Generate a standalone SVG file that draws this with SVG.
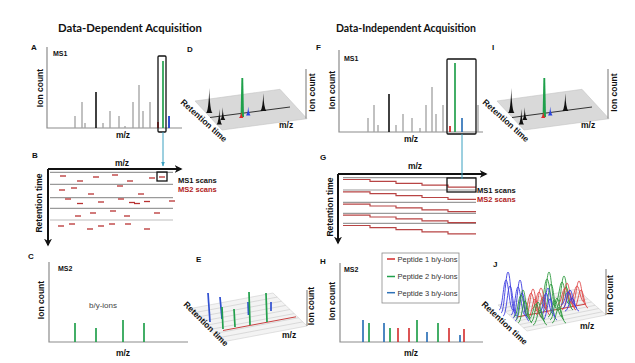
<svg xmlns="http://www.w3.org/2000/svg" width="635" height="363" viewBox="0 0 635 363">
<style>
text{font-family:"Liberation Sans",Arial,sans-serif;font-weight:bold;fill:#111}
.title{font-family:Lato,"Liberation Sans",sans-serif;font-size:11.5px}
.lt{font-size:8px}
.ms{font-size:7px}
.al{font-size:8.5px}
.sc{font-size:7.5px}
.ax{stroke:#8c8c8c;stroke-width:1.2;fill:none}
.gb{stroke:#a0a0a0;stroke-width:1.3}
.kb{stroke:#111;stroke-width:1.6}
.gr{stroke:#22a04c;stroke-width:1.7}
.rd{stroke:#d42a2a;stroke-width:1.8}
.bl{stroke:#2f4fd0;stroke-width:2}
.sb{stroke:#2e72b8;stroke-width:1.7}
.dash{stroke:#b83232;stroke-width:1.3}
.scan{stroke:#9a9a9a;stroke-width:1.2}
.st{fill:none;stroke:#b84444;stroke-width:1.2}
.box{fill:none;stroke:#111;stroke-width:1.3}
.conn{stroke:#3aa0c0;stroke-width:1;fill:none}
.arr{stroke:#111;stroke-width:2;fill:none}
.stripe{stroke:#c8c8c8;stroke-width:0.6}
.leg{font-weight:normal;font-size:7.5px;fill:#333}
.gs{fill:none;stroke-width:0.9}
</style>
<defs>
<marker id="ah" viewBox="0 0 10 10" refX="8" refY="5" markerWidth="4" markerHeight="4" orient="auto"><path d="M0,0 L10,5 L0,10 L3,5 Z" fill="#111"/></marker>
<marker id="ta" viewBox="0 0 10 10" refX="9" refY="5" markerWidth="5" markerHeight="5" orient="auto"><path d="M0,1 L10,5 L0,9 Z" fill="#3aa0c0"/></marker>
<path id="g" d="M-7,0 C-3.5,0 -2.5,-1 0,-1 C2.5,-1 3.5,0 7,0" fill="none" vector-effect="non-scaling-stroke"/>
</defs>

<text class="title" x="58" y="31.5" textLength="144" lengthAdjust="spacingAndGlyphs">Data-Dependent Acquisition</text>
<text class="title" x="336" y="32" textLength="140" lengthAdjust="spacingAndGlyphs">Data-Independent Acquisition</text>

<g id="panel-A">
<text x="31" y="50" class="lt">A</text>
<text x="53" y="56" class="ms">MS1</text>
<text class="al" transform="translate(43,88) rotate(-90)" text-anchor="middle">Ion count</text>
<path class="ax" d="M47,47 V128 H182"/>
<g class="gb">
<line x1="75" y1="116" x2="75" y2="128"/><line x1="82" y1="102" x2="82" y2="128"/><line x1="85" y1="123" x2="85" y2="128"/>
<line x1="103" y1="123" x2="103" y2="128"/><line x1="110" y1="111" x2="110" y2="128"/><line x1="119" y1="116" x2="119" y2="128"/>
<line x1="125" y1="126" x2="125" y2="128"/><line x1="133" y1="102" x2="133" y2="128"/><line x1="139" y1="85" x2="139" y2="128"/>
<line x1="143" y1="111" x2="143" y2="128"/><line x1="150" y1="102" x2="150" y2="128"/>
</g>
<line class="kb" x1="96" y1="92" x2="96" y2="128"/>
<line class="rd" x1="158" y1="122" x2="158" y2="128"/>
<line class="gr" x1="163" y1="61" x2="163" y2="128"/>
<line class="bl" x1="169" y1="116" x2="169" y2="128"/>
<rect class="box" x="158" y="56" width="8" height="76" rx="1"/>
<text x="123" y="138" class="al" text-anchor="middle">m/z</text>
</g>

<g id="panel-D">
<text x="187" y="51.5" class="lt">D</text>
<polygon points="195,101 280,89.3 307,118.7 222,130" fill="#d9d9d9" stroke="#c4c4c4" stroke-width="0.6"/>
<line x1="210" y1="117.5" x2="290" y2="107" stroke="#333" stroke-width="1"/>
<g fill="#111">
<path d="M206,113 Q208.6,111 209.3,88 Q209.9,111 212.5,113 Z"/>
<path d="M216.6,124.5 Q218.8,122 219.3,109 Q219.8,122 222,124.5 Z"/>
<path d="M220.4,120 Q222.3,118 222.7,107.3 Q223.2,118 225.3,120 Z"/>
<path d="M260.5,111 Q262.8,108 263.3,93.3 Q263.9,108 266.3,111 Z"/>
</g>
<polygon points="240.6,117 241.4,78 243.2,78 244,117" fill="#1ea04a"/>
<path d="M239,118 Q240.8,116 241.2,112 Q241.8,116 243.5,118 Z" fill="#e02a2a"/>
<path d="M246,115.5 Q247.8,113 248.2,106.5 Q248.8,113 250.5,115.5 Z" fill="#2a45e0"/>
<line class="ax" x1="306" y1="69" x2="306" y2="118.5"/>
<text class="al" transform="translate(180,103) rotate(42)">Retention time</text>
<text class="al" x="279" y="128">m/z</text>
<text class="al" transform="translate(315,92.5) rotate(-90)" text-anchor="middle">Ion count</text>
</g>

<g id="panel-B">
<text x="32" y="157.5" class="lt">B</text>
<text x="122" y="166" class="al" text-anchor="middle">m/z</text>
<text class="al" transform="translate(42,203) rotate(-90)" text-anchor="middle">Retention time</text>
<g class="scan">
<line x1="50" y1="172.3" x2="173" y2="172.3"/>
<line x1="50" y1="184.3" x2="173" y2="184.3"/>
<line x1="50" y1="197.7" x2="173" y2="197.7"/>
<line x1="50" y1="208.3" x2="173" y2="208.3"/>
<line x1="50" y1="220" x2="173" y2="220" stroke="#bdbdbd"/>
</g>
<path class="arr" d="M48,169 H181" marker-end="url(#ah)"/>
<path class="arr" d="M48,169 V245" marker-end="url(#ah)"/>
<g class="dash">
<line x1="60" y1="176" x2="66" y2="176"/><line x1="93" y1="177" x2="99" y2="177"/><line x1="112" y1="175" x2="118" y2="175"/>
<line x1="149" y1="178" x2="155" y2="178"/><line x1="159" y1="177" x2="165" y2="177"/>
<line x1="77" y1="181" x2="83" y2="181"/><line x1="127" y1="181" x2="133" y2="181"/>
<line x1="117" y1="186" x2="123" y2="186"/>
<line x1="59" y1="190" x2="65" y2="190"/><line x1="71" y1="188" x2="77" y2="188"/>
<line x1="88" y1="194" x2="94" y2="194"/><line x1="138" y1="194" x2="144" y2="194"/>
<line x1="65" y1="199" x2="71" y2="199"/><line x1="118" y1="199" x2="124" y2="199"/>
<line x1="98" y1="202" x2="104" y2="202"/><line x1="129" y1="202.5" x2="135" y2="202.5"/><line x1="169" y1="201" x2="175" y2="201"/>
<line x1="77" y1="203.5" x2="83" y2="203.5"/><line x1="134" y1="203.5" x2="140" y2="203.5"/><line x1="144" y1="201.5" x2="150" y2="201.5"/>
<line x1="110" y1="211" x2="116" y2="211"/>
<line x1="90" y1="213" x2="96" y2="213"/><line x1="154" y1="213" x2="160" y2="213"/>
<line x1="75" y1="216" x2="81" y2="216"/><line x1="124" y1="216" x2="130" y2="216"/>
<line x1="69" y1="224" x2="75" y2="224"/><line x1="98" y1="226" x2="104" y2="226"/><line x1="109" y1="224" x2="115" y2="224"/><line x1="125" y1="224" x2="131" y2="224"/>
<line x1="58" y1="226" x2="64" y2="226"/>
<line x1="87" y1="229" x2="93" y2="229"/><line x1="144" y1="229" x2="150" y2="229"/>
</g>
<rect class="box" x="157" y="172" width="10" height="9" stroke-width="1.1"/>
<text x="178" y="183" class="sc">MS1 scans</text>
<text x="178" y="192" class="sc" style="fill:#b01c1c">MS2 scans</text>
</g>

<g id="panel-C">
<text x="28" y="259" class="lt">C</text>
<text x="58" y="271" class="ms">MS2</text>
<text class="al" transform="translate(44,300) rotate(-90)" text-anchor="middle">Ion count</text>
<path class="ax" d="M49,262 V342 H188"/>
<g class="gr">
<line x1="75" y1="323" x2="75" y2="342"/><line x1="96" y1="328" x2="96" y2="342"/>
<line x1="123" y1="320" x2="123" y2="342"/><line x1="144" y1="323" x2="144" y2="342"/>
</g>
<text x="103" y="308" text-anchor="middle" style="font-weight:normal;font-size:8px;fill:#444">b/y-ions</text>
<text x="123" y="355.5" class="al" text-anchor="middle">m/z</text>
</g>

<g id="panel-E">
<text x="196" y="262" class="lt">E</text>
<polygon points="188,309 273,293 307,326 222,342" fill="#f3f3f3" stroke="#cfcfcf" stroke-width="0.6"/>
<g class="stripe">
<line x1="192.25" y1="313.1" x2="277.25" y2="297.1"/><line x1="196.5" y1="317.25" x2="281.5" y2="301.25"/>
<line x1="200.75" y1="321.4" x2="285.75" y2="305.4"/><line x1="205" y1="325.5" x2="290" y2="309.5"/>
<line x1="209.25" y1="329.6" x2="294.25" y2="313.6"/><line x1="213.5" y1="333.75" x2="298.5" y2="317.75"/>
<line x1="217.75" y1="337.9" x2="302.75" y2="321.9"/>
</g>
<g class="bl" style="stroke-width:1.7">
<line x1="208" y1="293" x2="210" y2="322"/><line x1="220" y1="297" x2="222" y2="319"/>
<line x1="248" y1="302" x2="248.5" y2="315"/><line x1="271" y1="302" x2="271" y2="311"/>
</g>
<line x1="223" y1="330.5" x2="296" y2="316.8" stroke="#c84040" stroke-width="1"/>
<g class="gr">
<line x1="222" y1="307" x2="223" y2="329"/><line x1="234" y1="309" x2="235" y2="327"/>
<line x1="249" y1="292" x2="250" y2="325"/><line x1="266" y1="293" x2="267" y2="322"/>
</g>
<line class="ax" x1="307" y1="290" x2="307" y2="326"/>
<text class="al" transform="translate(183,305) rotate(45)">Retention time</text>
<text class="al" x="282" y="338">m/z</text>
<text class="al" transform="translate(314,306) rotate(-90)" text-anchor="middle">Ion count</text>
</g>

<g id="panel-F">
<text x="316" y="49.5" class="lt">F</text>
<text x="344" y="61" class="ms">MS1</text>
<text class="al" transform="translate(335,90) rotate(-90)" text-anchor="middle">Ion count</text>
<path class="ax" d="M339,50 V132 H483"/>
<g class="gb">
<line x1="368" y1="118" x2="368" y2="132"/><line x1="374" y1="105" x2="374" y2="132"/><line x1="378" y1="125" x2="378" y2="132"/>
<line x1="396" y1="125" x2="396" y2="132"/><line x1="403" y1="114" x2="403" y2="132"/><line x1="412" y1="118" x2="412" y2="132"/>
<line x1="420" y1="128" x2="420" y2="132"/><line x1="426" y1="105" x2="426" y2="132"/><line x1="432" y1="87" x2="432" y2="132"/>
<line x1="436" y1="114" x2="436" y2="132"/><line x1="443" y1="105" x2="443" y2="132"/><line x1="478" y1="105" x2="478" y2="132"/>
</g>
<line class="kb" x1="389" y1="94" x2="389" y2="132"/>
<line class="rd" x1="450" y1="126" x2="450" y2="132"/>
<line class="gr" x1="455" y1="63" x2="455" y2="132"/>
<line class="sb" x1="462" y1="118" x2="462" y2="132"/>
<rect class="box" x="447" y="59" width="29" height="75" rx="1"/>
<text x="411" y="142" class="al" text-anchor="middle">m/z</text>
</g>

<g id="panel-I">
<text x="492" y="50" class="lt">I</text>
<g transform="translate(302,0)">
<polygon points="195,101 280,89.3 307,118.7 222,130" fill="#d9d9d9" stroke="#c4c4c4" stroke-width="0.6"/>
<line x1="210" y1="117.5" x2="290" y2="107" stroke="#333" stroke-width="1"/>
<g fill="#111">
<path d="M206,113 Q208.6,111 209.3,88 Q209.9,111 212.5,113 Z"/>
<path d="M216.6,124.5 Q218.8,122 219.3,109 Q219.8,122 222,124.5 Z"/>
<path d="M220.4,120 Q222.3,118 222.7,107.3 Q223.2,118 225.3,120 Z"/>
<path d="M260.5,111 Q262.8,108 263.3,93.3 Q263.9,108 266.3,111 Z"/>
</g>
<polygon points="240.6,117 241.4,78 243.2,78 244,117" fill="#1ea04a"/>
<path d="M239,118 Q240.8,116 241.2,112 Q241.8,116 243.5,118 Z" fill="#e02a2a"/>
<path d="M246,115.5 Q247.8,113 248.2,106.5 Q248.8,113 250.5,115.5 Z" fill="#2a45e0"/>
<line class="ax" x1="306" y1="69" x2="306" y2="118.5"/>
<text class="al" transform="translate(180,103) rotate(42)">Retention time</text>
<text class="al" x="279" y="128">m/z</text>
<text class="al" transform="translate(315,92.5) rotate(-90)" text-anchor="middle">Ion count</text>
</g>
</g>

<g id="panel-G">
<text x="320" y="160" class="lt">G</text>
<text x="415" y="169" class="al" text-anchor="middle">m/z</text>
<text class="al" transform="translate(333,207) rotate(-90)" text-anchor="middle">Retention time</text>
<g class="scan">
<line x1="343" y1="177.7" x2="476" y2="177.7"/>
<line x1="343" y1="190" x2="476" y2="190"/>
<line x1="343" y1="202.3" x2="476" y2="202.3"/>
<line x1="343" y1="213.3" x2="476" y2="213.3"/>
<line x1="343" y1="223.3" x2="476" y2="223.3"/>
</g>
<g class="st">
<path d="M343,179.5 H370 V181.4 H396 V183.3 H422 V185.2 H448 V187.1 H476"/>
<path d="M343,191.8 H370 V193.7 H396 V195.6 H422 V197.5 H448 V199.4 H476"/>
<path d="M343,204.1 H370 V206 H396 V207.9 H422 V209.8 H448 V211.7 H476"/>
<path d="M343,215.1 H370 V217 H396 V218.9 H422 V220.8 H448 V222.7 H476"/>
<path d="M343,225.5 H370 V227.6 H396 V229.7 H422 V231.8 H448 V233.9 H476"/>
</g>
<path class="arr" d="M338,174 H486" marker-end="url(#ah)"/>
<path class="arr" d="M338,174 V243" marker-end="url(#ah)"/>
<rect class="box" x="447" y="178" width="29" height="14" stroke-width="1.1"/>
<text x="477" y="192.5" class="sc">MS1 scans</text>
<text x="477" y="202" class="sc" style="fill:#b01c1c">MS2 scans</text>
</g>

<g id="panel-H">
<text x="320" y="264" class="lt">H</text>
<text x="344" y="272" class="ms">MS2</text>
<text class="al" transform="translate(335,301) rotate(-90)" text-anchor="middle">Ion count</text>
<path class="ax" d="M340,263 V342 H483"/>
<line class="sb" x1="363" y1="320" x2="363" y2="342"/>
<line class="gr" x1="369" y1="323" x2="369" y2="342"/>
<line class="sb" x1="384" y1="323" x2="384" y2="342"/>
<line class="gr" x1="390" y1="328" x2="390" y2="342"/>
<line class="rd" x1="398" y1="328" x2="398" y2="342" style="stroke-width:1.6"/>
<line class="rd" x1="409" y1="328" x2="409" y2="342" style="stroke-width:1.6"/>
<line class="gr" x1="417" y1="320" x2="417" y2="342"/>
<line class="sb" x1="427" y1="332" x2="427" y2="342"/>
<line class="gr" x1="438" y1="323" x2="438" y2="342"/>
<line class="rd" x1="449" y1="328" x2="449" y2="342" style="stroke-width:1.6"/>
<line class="sb" x1="460" y1="335" x2="460" y2="342"/>
<line class="rd" x1="464" y1="329" x2="464" y2="342" style="stroke-width:1.6"/>
<text x="411" y="356" class="al" text-anchor="middle">m/z</text>
<g id="legend">
<rect x="382" y="253" width="77" height="50" fill="#fff" stroke="#8a8a8a" stroke-width="0.8"/>
<line x1="387" y1="259" x2="395" y2="259" stroke="#d42a2a" stroke-width="1.5"/>
<line x1="387" y1="276.5" x2="395" y2="276.5" stroke="#22a04c" stroke-width="1.5"/>
<line x1="387" y1="292.7" x2="395" y2="292.7" stroke="#2e72b8" stroke-width="1.5"/>
<text x="397.5" y="261.8" class="leg">Peptide 1 b/y-ions</text>
<text x="397.5" y="279.3" class="leg">Peptide 2 b/y-ions</text>
<text x="397.5" y="295.5" class="leg">Peptide 3 b/y-ions</text>
</g>
</g>

<g id="panel-J">
<text x="493" y="267" class="lt">J</text>
<polygon points="498,305 577,289 606,315 527,331" fill="#f3f3f3" stroke="#cfcfcf" stroke-width="0.6"/>
<g class="stripe">
<line x1="501.6" y1="308.3" x2="580.6" y2="292.3"/><line x1="505.3" y1="311.5" x2="584.3" y2="295.5"/>
<line x1="508.9" y1="314.8" x2="587.9" y2="298.8"/><line x1="512.5" y1="318" x2="591.5" y2="302"/>
<line x1="516.1" y1="321.3" x2="595.1" y2="305.3"/><line x1="519.8" y1="324.5" x2="598.8" y2="308.5"/>
<line x1="523.4" y1="327.8" x2="602.4" y2="311.8"/>
</g>
<line x1="517" y1="317" x2="586" y2="304" stroke="#c84040" stroke-width="1"/>
<g class="gs">
<use href="#g" stroke="#e04848" transform="translate(577,302) scale(1,16)"/>
<use href="#g" stroke="#e04848" transform="translate(579,305) scale(1,24)"/>
<use href="#g" stroke="#e04848" transform="translate(581,308) scale(1,18)"/>
<use href="#g" stroke="#2e9a3e" transform="translate(562,304) scale(1,22)"/>
<use href="#g" stroke="#2e9a3e" transform="translate(564,307) scale(1,31)"/>
<use href="#g" stroke="#2e9a3e" transform="translate(566,310) scale(1,23)"/>
<use href="#g" stroke="#e04848" transform="translate(565,304) scale(1,16)"/>
<use href="#g" stroke="#e04848" transform="translate(567,307) scale(1,24)"/>
<use href="#g" stroke="#e04848" transform="translate(569,310) scale(1,18)"/>
<use href="#g" stroke="#3a3ae0" transform="translate(568,305) scale(1,13)"/>
<use href="#g" stroke="#3a3ae0" transform="translate(570,308) scale(1,18)"/>
<use href="#g" stroke="#3a3ae0" transform="translate(572,311) scale(1,13)"/>
<use href="#g" stroke="#2e9a3e" transform="translate(547,305) scale(1,26)"/>
<use href="#g" stroke="#2e9a3e" transform="translate(549,308) scale(1,36)"/>
<use href="#g" stroke="#2e9a3e" transform="translate(551,311) scale(1,27)"/>
<use href="#g" stroke="#e04848" transform="translate(539,309) scale(1,17)"/>
<use href="#g" stroke="#e04848" transform="translate(541,312) scale(1,24)"/>
<use href="#g" stroke="#e04848" transform="translate(543,315) scale(1,18)"/>
<use href="#g" stroke="#e04848" transform="translate(531,312) scale(1,19)"/>
<use href="#g" stroke="#e04848" transform="translate(533,315) scale(1,26)"/>
<use href="#g" stroke="#e04848" transform="translate(535,318) scale(1,19)"/>
<use href="#g" stroke="#3a3ae0" transform="translate(546,314) scale(1,21)"/>
<use href="#g" stroke="#3a3ae0" transform="translate(548,317) scale(1,29)"/>
<use href="#g" stroke="#3a3ae0" transform="translate(550,320) scale(1,21)"/>
<use href="#g" stroke="#2e9a3e" transform="translate(555,317) scale(1,16)"/>
<use href="#g" stroke="#2e9a3e" transform="translate(557,320) scale(1,22)"/>
<use href="#g" stroke="#2e9a3e" transform="translate(559,323) scale(1,16)"/>
<use href="#g" stroke="#3a3ae0" transform="translate(506,310) scale(1,30)"/>
<use href="#g" stroke="#3a3ae0" transform="translate(508,313) scale(1,41)"/>
<use href="#g" stroke="#3a3ae0" transform="translate(510,316) scale(1,30)"/>
<use href="#g" stroke="#3a3ae0" transform="translate(518,315) scale(1,28)"/>
<use href="#g" stroke="#3a3ae0" transform="translate(520,318) scale(1,38)"/>
<use href="#g" stroke="#3a3ae0" transform="translate(522,321) scale(1,28)"/>
<use href="#g" stroke="#2e9a3e" transform="translate(521,317) scale(1,22)"/>
<use href="#g" stroke="#2e9a3e" transform="translate(523,320) scale(1,30)"/>
<use href="#g" stroke="#2e9a3e" transform="translate(525,323) scale(1,22)"/>
<use href="#g" stroke="#2e9a3e" transform="translate(536,319) scale(1,15)"/>
<use href="#g" stroke="#2e9a3e" transform="translate(538,322) scale(1,20)"/>
<use href="#g" stroke="#2e9a3e" transform="translate(540,325) scale(1,15)"/>
</g>
<line class="ax" x1="606" y1="269" x2="606" y2="315"/>
<text class="al" transform="translate(481,305) rotate(43)">Retention time</text>
<text class="al" x="580" y="329">m/z</text>
<text class="al" transform="translate(613,295) rotate(-90)" text-anchor="middle">Ion Count</text>
</g>

<g id="connectors">
<path class="conn" d="M163,132 V166" marker-end="url(#ta)"/>
<path class="conn" d="M462,134 V179"/>
</g>
</svg>
